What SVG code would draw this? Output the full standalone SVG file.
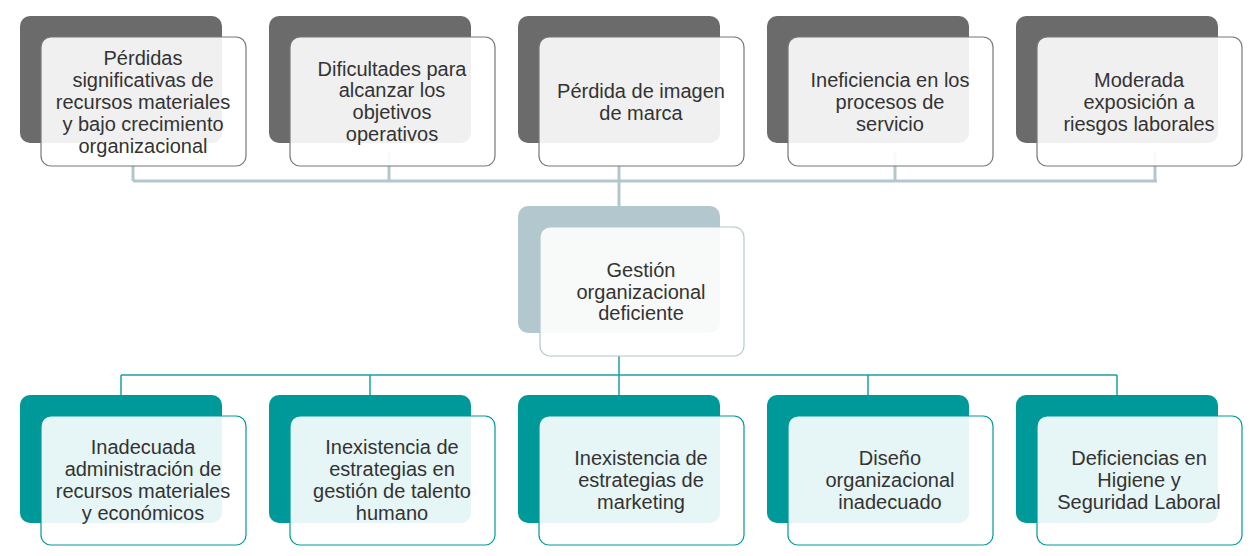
<svg xmlns="http://www.w3.org/2000/svg" width="1256" height="556" viewBox="0 0 1256 556">
<style>
.t{font-family:"Liberation Sans",Arial,sans-serif;font-size:20px;fill:#333;text-anchor:middle}
.dg{fill:#6b6b6b}
.fg{fill:#fff;fill-opacity:0.9;stroke:#777;stroke-width:1.2}
.db{fill:#b3c8ce}
.fb{fill:#fff;fill-opacity:0.9;stroke:#b3c8ce;stroke-width:1.2}
.dt{fill:#009999}
.ft{fill:#fff;fill-opacity:0.9;stroke:#009999;stroke-width:1.2}
.ct{fill:none;stroke:#b3c8ce;stroke-width:3}
.cb{fill:none;stroke:#1aa3a3;stroke-width:1.5}
</style>
<rect width="1256" height="556" fill="#fff"/>
<g id="connectors">
<path class="ct" d="M133,152V181M389,152V181M895,152V181M1155,152V181M133,181H1157M619,166V206"/>
<path class="cb" d="M619,356V375M121,375H1117M121,375V395M370,375V395M619,375V395M868,375V395M1117,375V395"/>
</g>
<g id="top1">
<rect class="dg" x="20" y="16" width="202" height="127" rx="10"/>
<rect class="fg" x="41" y="37" width="205" height="129" rx="10"/>
<text class="t"><tspan x="143" y="65">Pérdidas</tspan><tspan x="143" y="87">significativas de</tspan><tspan x="143" y="109">recursos materiales</tspan><tspan x="143" y="131">y bajo crecimiento</tspan><tspan x="143" y="153">organizacional</tspan></text>
</g>
<g id="top2">
<rect class="dg" x="269" y="16" width="202" height="127" rx="10"/>
<rect class="fg" x="290" y="37" width="205" height="129" rx="10"/>
<text class="t"><tspan x="392" y="76">Dificultades para</tspan><tspan x="392" y="97">alcanzar los</tspan><tspan x="392" y="119">objetivos</tspan><tspan x="392" y="141">operativos</tspan></text>
</g>
<g id="top3">
<rect class="dg" x="518" y="16" width="202" height="127" rx="10"/>
<rect class="fg" x="539" y="37" width="205" height="129" rx="10"/>
<text class="t"><tspan x="641" y="98">Pérdida de imagen</tspan><tspan x="641" y="120">de marca</tspan></text>
</g>
<g id="top4">
<rect class="dg" x="767" y="16" width="202" height="127" rx="10"/>
<rect class="fg" x="788" y="37" width="205" height="129" rx="10"/>
<text class="t"><tspan x="890" y="87">Ineficiencia en los</tspan><tspan x="890" y="109">procesos de</tspan><tspan x="890" y="131">servicio</tspan></text>
</g>
<g id="top5">
<rect class="dg" x="1016" y="16" width="202" height="127" rx="10"/>
<rect class="fg" x="1037" y="37" width="205" height="129" rx="10"/>
<text class="t"><tspan x="1139" y="87">Moderada</tspan><tspan x="1139" y="109">exposición a</tspan><tspan x="1139" y="131">riesgos laborales</tspan></text>
</g>
<g id="center">
<rect class="db" x="518" y="206" width="202" height="127" rx="10"/>
<rect class="fb" x="540" y="227" width="204" height="129" rx="10"/>
<text class="t"><tspan x="641" y="277">Gestión</tspan><tspan x="641" y="299">organizacional</tspan><tspan x="641" y="320">deficiente</tspan></text>
</g>
<g id="bot1">
<rect class="dt" x="20" y="395" width="202" height="128" rx="10"/>
<rect class="ft" x="41" y="416" width="205" height="129" rx="10"/>
<text class="t"><tspan x="143" y="454">Inadecuada</tspan><tspan x="143" y="476">administración de</tspan><tspan x="143" y="498">recursos materiales</tspan><tspan x="143" y="520">y económicos</tspan></text>
</g>
<g id="bot2">
<rect class="dt" x="269" y="395" width="202" height="128" rx="10"/>
<rect class="ft" x="290" y="416" width="205" height="129" rx="10"/>
<text class="t"><tspan x="392" y="454">Inexistencia de</tspan><tspan x="392" y="476">estrategias en</tspan><tspan x="392" y="498">gestión de talento</tspan><tspan x="392" y="520">humano</tspan></text>
</g>
<g id="bot3">
<rect class="dt" x="518" y="395" width="202" height="128" rx="10"/>
<rect class="ft" x="539" y="416" width="205" height="129" rx="10"/>
<text class="t"><tspan x="641" y="465">Inexistencia de</tspan><tspan x="641" y="487">estrategias de</tspan><tspan x="641" y="509">marketing</tspan></text>
</g>
<g id="bot4">
<rect class="dt" x="767" y="395" width="202" height="128" rx="10"/>
<rect class="ft" x="788" y="416" width="205" height="129" rx="10"/>
<text class="t"><tspan x="890" y="465">Diseño</tspan><tspan x="890" y="487">organizacional</tspan><tspan x="890" y="509">inadecuado</tspan></text>
</g>
<g id="bot5">
<rect class="dt" x="1016" y="395" width="202" height="128" rx="10"/>
<rect class="ft" x="1037" y="416" width="205" height="129" rx="10"/>
<text class="t"><tspan x="1139" y="465">Deficiencias en</tspan><tspan x="1139" y="487">Higiene y</tspan><tspan x="1139" y="509">Seguridad Laboral</tspan></text>
</g>
</svg>
